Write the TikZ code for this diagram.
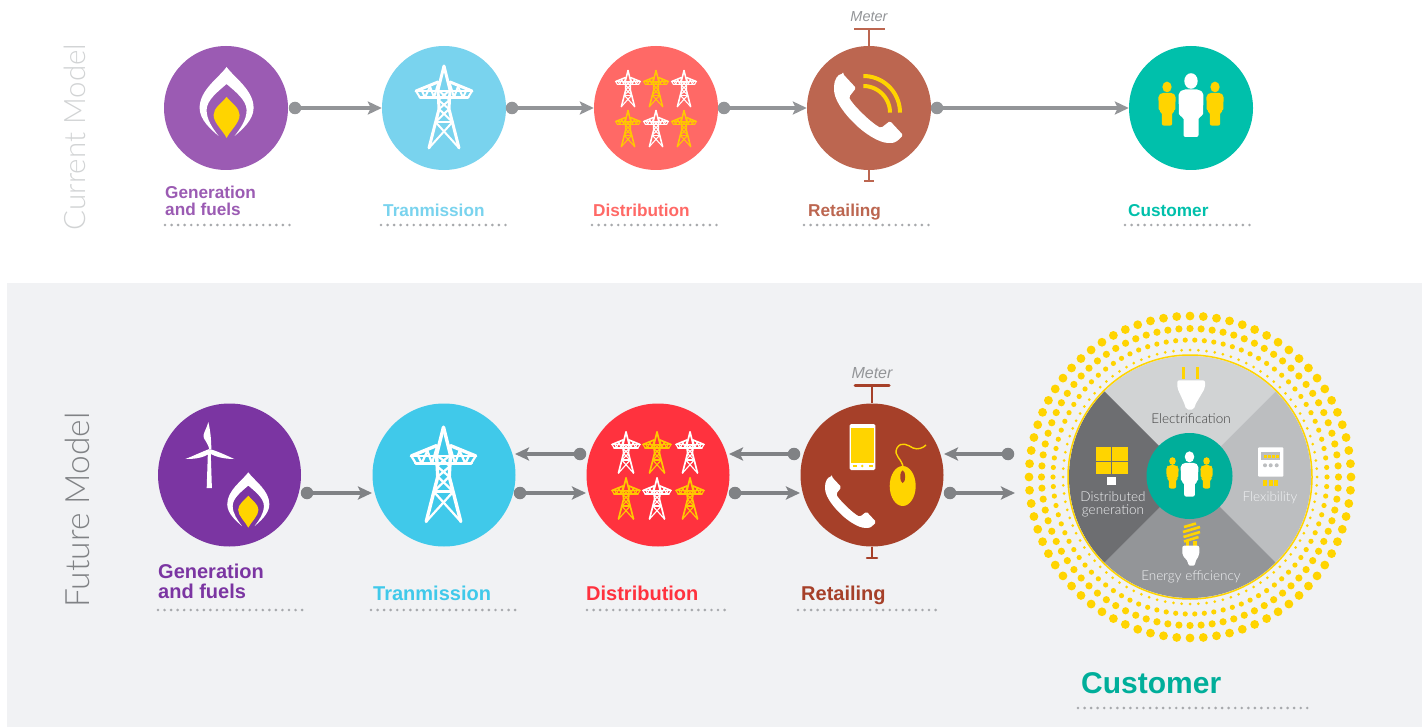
\documentclass[tikz,border=0pt]{standalone}
\usepackage{fontspec}
\setmainfont{Liberation Sans}
\newfontfamily\lightfont{Lato Light}
\usepackage[dvipsnames]{xcolor}
\usepackage{tikz}
\usetikzlibrary{arrows.meta}

\definecolor{panelgray}{HTML}{F1F2F4}
\definecolor{titlegray}{HTML}{D1D3D4}
\definecolor{flowgray}{HTML}{939598}
\definecolor{flowdark}{HTML}{808285}
\definecolor{dotgray}{HTML}{A7A9AC}
\definecolor{sunny}{HTML}{FFD400}
\definecolor{sunnydark}{HTML}{FFC800}
\definecolor{genold}{HTML}{9B5BB3}
\definecolor{transold}{HTML}{79D3EE}
\definecolor{distold}{HTML}{FF6966}
\definecolor{retold}{HTML}{BC6650}
\definecolor{custold}{HTML}{00C0AB}
\definecolor{gennew}{HTML}{7B35A2}
\definecolor{transnew}{HTML}{40C9EA}
\definecolor{distnew}{HTML}{FF323E}
\definecolor{retnew}{HTML}{A64029}
\definecolor{custnew}{HTML}{00AE9A}
\definecolor{sectop}{HTML}{D1D3D4}
\definecolor{secright}{HTML}{BCBEC0}
\definecolor{secbottom}{HTML}{939598}
\definecolor{secleft}{HTML}{6D6E71}

\tikzset{
  stage/.style={circle,inner sep=0pt,minimum size=#1},
  flow/.style={draw=#1,line width=4.5pt,-{Stealth[length=14pt,width=13pt,inset=3pt]}},
  knob/.style={circle,inner sep=0pt,minimum size=12.5pt,fill=#1},
  dotline/.style={draw=dotgray,line width=2.9pt,line cap=round,dash pattern=on 0pt off 6.55pt},
  oldlabel/.style={font=\fontsize{17.2}{17}\selectfont\bfseries,inner sep=0pt,anchor=base west,align=left},
  newlabel/.style={font=\fontsize{20}{20}\selectfont\bfseries,inner sep=0pt,anchor=base west,align=left},
  title/.style={font=\lightfont\fontsize{#1}{#1}\selectfont,inner sep=0pt,rotate=90},
  ringtext/.style={font=\lightfont\fontsize{13.5}{13}\selectfont,inner sep=0pt,align=center},
}

\newcommand{\flame}[3]{
  \begin{scope}[shift={(#1,#2)},scale=#3]
    \fill[white] (0,-41) .. controls (-8,-30) and (-27,-18) .. (-27,0) .. controls (-27,12) and (-15,22) .. (-8,28) .. controls (-14,20) and (-20,12) .. (-20,2) .. controls (-20,-8) and (-8,-17) .. (0,-24) .. controls (8,-17) and (20,-8) .. (20,2) .. controls (20,12) and (14,20) .. (8,28) .. controls (15,22) and (27,12) .. (27,0) .. controls (27,-18) and (8,-30) .. (0,-41) -- cycle;
    \fill[sunny] (0,-11) .. controls (-5,-5) and (-13,0) .. (-13,7) .. controls (-13,15) and (-4,22) .. (0,30) .. controls (4,22) and (13,15) .. (13,7) .. controls (13,0) and (5,-5) .. (0,-11) -- cycle;
  \end{scope}
}

\newcommand{\pylon}[4]{
  \begin{scope}[shift={(#1,#2)},scale=#3,draw=#4,line width={(0.3+#3*1.7)*1pt},line join=round,line cap=round]
    \foreach \s in {-1,1} {
      \draw[line width={(0.4+#3*2.6)*1pt}] (0,-42) -- (\s*6,-18) -- (\s*5,1) -- (\s*15,40);
      \draw[line width={(0.4+#3*2.6)*1pt}] (\s*28,-17) -- (\s*6,-26);
      \draw (\s*28,-17) -- (\s*24,-10.5);
      \draw (\s*23,-19) -- (\s*19,-10.5) -- (\s*14,-21.5) -- (\s*10,-10.5) -- (\s*6,-24);
      \draw (\s*6,-18) -- (-\s*5.6,-8) -- (\s*5,1) -- (-\s*8.5,14) -- (\s*15,40);
    }
    \draw (-28,-17) -- (28,-17);
    \draw[line width={(0.4+#3*2.6)*1pt}] (-24,-10.5) -- (24,-10.5);
    \draw (-8.5,14) -- (8.5,14);
  \end{scope}
}

\newcommand{\handset}[3]{
  \begin{scope}[shift={(#1,#2)},scale=#3]
    \fill[white,rounded corners=1.5pt] (-26,-34) -- (-13,-20) -- (-20,-11) .. controls (-17,-4) and (2,15) .. (12,20) -- (21,13) -- (34,27) .. controls (30,32) and (26,35) .. (21,35) .. controls (10,35) and (-5,25) .. (-15,15) .. controls (-28,2) and (-35,-10) .. (-35,-20) .. controls (-35,-28) and (-31,-34) .. (-26,-34) -- cycle;
  \end{scope}
}

\newcommand{\person}[4]{
  \begin{scope}[shift={(#1,#2)},scale=#3]
    \fill[#4] (0,-27) ellipse [x radius=6.7,y radius=7.8];
    \fill[#4,rounded corners=2pt] (-8,-18.5) -- (8,-18.5) -- (12.5,-15) -- (12,8) -- (7.5,9) -- (7.5,29) -- (-7.5,29) -- (-7.5,9) -- (-12,8) -- (-12.5,-15) -- cycle;
  \end{scope}
}

\newcommand{\people}[3]{
  \begin{scope}[shift={(#1,#2)},scale=#3]
    \person{0}{0}{1}{white}
    \person{-24}{-2.4}{0.69}{sunny}
    \person{24}{-2.4}{0.69}{sunny}
  \end{scope}
}

\begin{document}
\begin{tikzpicture}[x=1pt,y=-1pt]
  \useasboundingbox (0,0) rectangle (1427,727);
  \fill[white] (0,0) rectangle (1427,727);
  \fill[panelgray] (7,283) rectangle (1422,727);

  \node[title=29.5,text=titlegray] (oldtitle) at (75,137) {Current Model};
  \node[title=33.5,text=flowdark] (newtitle) at (77,510) {Future Model};

  % current model
  \node[stage=124pt,fill=genold] (gen) at (226,108) {};
  \node[stage=124pt,fill=transold] (trans) at (444,108) {};
  \node[stage=124pt,fill=distold] (dist) at (656,108) {};
  \node[stage=124pt,fill=retold] (ret) at (869,108) {};
  \node[stage=124pt,fill=custold] (cust) at (1191,108) {};

  \node[knob=flowgray] (genout) at (295,108) {};
  \node[knob=flowgray] (transout) at (512,108) {};
  \node[knob=flowgray] (distout) at (724,108) {};
  \node[knob=flowgray] (retout) at (937,108) {};
  \draw[flow=flowgray] (genout.center) -- (trans.west);
  \draw[flow=flowgray] (transout.center) -- (dist.west);
  \draw[flow=flowgray] (distout.center) -- (ret.west);
  \draw[flow=flowgray] (retout.center) -- (cust.west);

  \flame{226.6}{108}{1}
  \pylon{444}{108}{1}{white}
  \foreach \x/\y/\c in {628/89/white,656/89/sunnydark,684/89/white,628/129/sunnydark,656/129/white,684/129/sunnydark} {
    \pylon{\x}{\y}{0.44}{\c}
  }
  \handset{869}{108}{1}
  \foreach \r in {36.7,26.7} {
    \draw[sunny,line width=4pt,shift={(863.3,112.7)},domain=-90:0,samples=30] plot (\x:\r);
  }
  \draw[retold,line width=2.5pt] (869,29) -- (ret.north);
  \draw[retold,line width=2.5pt] (854,29) -- (885,29);
  \draw[retold,line width=2.5pt] (ret.south) -- (869,181);
  \draw[retold,line width=2.5pt] (864,181) -- (874,181);
  \node[font=\itshape\fontsize{14.5}{14}\selectfont,text=flowgray,inner sep=0pt] (oldmeter) at (869,17) {Meter};
  \people{1191}{108}{1}

  \node[oldlabel,anchor=west,text=genold] (genlabel) at (165,200.5) {Generation\\and fuels};
  \node[oldlabel,text=transold] (translabel) at (383,217) {Tranmission};
  \node[oldlabel,text=distold] (distlabel) at (593,217) {Distribution};
  \node[oldlabel,text=retold] (retlabel) at (808,217) {Retailing};
  \node[oldlabel,text=custold] (custlabel) at (1128,217) {Customer};
  \foreach \a/\b in {165/290,381/506,592/717,804/929,1125/1250} {
    \draw[dotline] (\a,225) -- (\b,225);
  }

  % future model
  \node[stage=143pt,fill=gennew] (gennow) at (229.5,475) {};
  \node[stage=143pt,fill=transnew] (transnow) at (444,475) {};
  \node[stage=143pt,fill=distnew] (distnow) at (658,475) {};
  \node[stage=143pt,fill=retnew] (retnow) at (872,475) {};

  \node[knob=flowdark] (genfwd) at (307,493) {};
  \node[knob=flowdark] (transfwd) at (520,493) {};
  \node[knob=flowdark] (distfwd) at (735,493) {};
  \node[knob=flowdark] (retfwd) at (950,493) {};
  \node[knob=flowdark] (distback) at (580,454) {};
  \node[knob=flowdark] (retback) at (794,454) {};
  \node[knob=flowdark] (custback) at (1008,454) {};
  \coordinate (genfwdend) at (372,493);
  \coordinate (transfwdend) at (586,493);
  \coordinate (distfwdend) at (800,493);
  \coordinate (retfwdend) at (1015,493);
  \coordinate (distbackend) at (515,454);
  \coordinate (retbackend) at (729,454);
  \coordinate (custbackend) at (944,454);
  \foreach \a/\b in {genfwd/genfwdend,transfwd/transfwdend,distfwd/distfwdend,retfwd/retfwdend,distback/distbackend,retback/retbackend,custback/custbackend} {
    \draw[flow=flowdark] (\a.center) -- (\b);
  }

  \flame{248.3}{504.3}{0.78}
  \begin{scope}[shift={(209.3,450)}]
    \fill[white] (-1.4,2) -- (1.4,2) -- (2.6,38) -- (-2.6,38) -- cycle;
    \fill[white] (-1,-28) .. controls (-3,-20) and (-7,-16) .. (-5.5,-12) .. controls (-3,-8) and (-1,-5) .. (0,-1) -- (2,-1) .. controls (2,-10) and (1,-20) .. (-1,-28) -- cycle;
    \fill[white] (0,-1) .. controls (-8,2) and (-16,6) .. (-24,9) .. controls (-14,9) and (-6,8) .. (1,3) -- cycle;
    \fill[white] (0,-1) .. controls (8,1) and (16,5) .. (25,9) .. controls (15,9) and (6,7) .. (0,3) -- cycle;
  \end{scope}
  \pylon{443.5}{475.5}{1.15}{white}
  \foreach \x/\y/\c in {626/453/white,657/453/sunnydark,690/453/white,626/499/sunnydark,657/499/white,690/499/sunnydark} {
    \pylon{\x}{\y}{0.5}{\c}
  }
  \handset{851}{502}{0.74}
  \fill[white,rounded corners=1.5pt] (849.7,424) rectangle (875.3,470);
  \fill[sunny] (851,428.3) rectangle (873.7,462.7);
  \fill[sunny] (853,465) rectangle (857,467);
  \fill[sunny] (869,465) rectangle (873,467);
  \fill[sunny] (862.3,466) circle (1.4pt);
  \draw[sunny,line width=1.4pt] (903.3,468) .. controls (902,458) and (893,456) .. (897,448) .. controls (901,441) and (908,445) .. (913,448) .. controls (918,450) and (923,448) .. (926,445);
  \fill[sunny] (902.7,486) ellipse [x radius=13,y radius=20];
  \fill[retnew] (902.7,476.7) ellipse [x radius=2.4,y radius=6.3];
  \draw[retnew,line width=2.5pt] (872,385) -- (retnow.north);
  \draw[retnew,line width=3pt,line cap=round] (855,385) -- (889,385);
  \draw[retnew,line width=2.5pt] (retnow.south) -- (872,558);
  \draw[retnew,line width=2.5pt,line cap=round] (867,558) -- (877,558);
  \node[font=\itshape\fontsize{16}{16}\selectfont,text=flowgray,inner sep=0pt] (newmeter) at (872,373.5) {Meter};

  \node[newlabel,anchor=west,text=gennew] (gennowlabel) at (158,581) {Generation\\and fuels};
  \node[newlabel,text=transnew] (transnowlabel) at (373,600.5) {Tranmission};
  \node[newlabel,text=distnew] (distnowlabel) at (586,600.5) {Distribution};
  \node[newlabel,text=retnew] (retnowlabel) at (801,600.5) {Retailing};
  \foreach \a/\b in {158/303,371/516,587/729,798/942} {
    \draw[dotline] (\a,610) -- (\b,610);
  }

  % customer ring
  \coordinate (hub) at (1190,477);
  \foreach \r/\n/\s in {161/76/4.4,148.5/84/3.6,137/90/2.6,127/96/1.5} {
    \foreach \k in {1,...,\n} {
      \fill[sunny] ([shift={(hub)}]{360/\n*\k}:\r) circle (\s pt);
    }
  }
  \begin{scope}
    \clip (hub) circle (121pt);
    \fill[sectop] (hub) -- ++(-200,-200) -- ++(400,0) -- cycle;
    \fill[secright] (hub) -- ++(200,-200) -- ++(0,400) -- cycle;
    \fill[secbottom] (hub) -- ++(200,200) -- ++(-400,0) -- cycle;
    \fill[secleft] (hub) -- ++(-200,200) -- ++(0,-400) -- cycle;
  \end{scope}
  \draw[sunny,line width=1.5pt] (hub) circle (122pt);
  \node[stage=86pt,fill=custnew] (custnow) at (1189.5,476) {};
  \people{1189.5}{476}{0.71}

  \fill[sunny] (1182,367) rectangle (1185.4,379);
  \fill[sunny] (1196,367) rectangle (1199.4,379);
  \fill[white,rounded corners=2pt] (1177.3,380.3) -- (1205,380.3) -- (1205,388) -- (1195,405) -- (1194,409.5) -- (1186,409.5) -- (1185,405) -- (1177.3,388) -- cycle;
  \node[ringtext,text=black!75] (electric) at (1191,419) {Electrification};

  \fill[sunny] (1095.7,447.3) rectangle (1110.7,461);
  \fill[sunny] (1112.3,447.3) rectangle (1127.7,461);
  \fill[sunny] (1095.7,462.3) rectangle (1110.7,474.3);
  \fill[sunny] (1112.3,462.3) rectangle (1127.7,474.3);
  \fill[white] (1106.7,477.3) rectangle (1116,485.3);
  \node[ringtext,text=panelgray] (distgen) at (1113,504) {Distributed\\generation};

  \fill[white,rounded corners=1pt] (1258,447.3) rectangle (1283.3,476.7);
  \fill[secright] (1261.3,452.3) rectangle (1280,460);
  \foreach \x in {1264,1268,1272,1276} {
    \fill[sunny] (\x,454.7) rectangle (\x+3,458.3);
  }
  \foreach \x in {1265,1270.7,1276.7} {
    \fill[secright] (\x,465.3) circle (2pt);
  }
  \foreach \x in {1263,1269.3,1274.3} {
    \fill[sunny] (\x,479.7) rectangle (\x+4,486);
  }
  \node[ringtext,text=panelgray] (flex) at (1270,497.7) {Flexibility};

  \foreach \a/\b/\c/\d in {1184/527/1196/523.5,1183/532/1200/527,1183.5/537/1200/532,1184/541.5/1198.5/537} {
    \draw[sunny,line width=2.6pt] (\a,\b) -- (\c,\d);
  }
  \fill[sunny] (1186,541) rectangle (1189,546);
  \fill[sunny] (1193,541) rectangle (1196.5,546);
  \fill[white,rounded corners=2pt] (1182.3,545.7) -- (1199.3,545.7) -- (1199.3,555) -- (1195,562) -- (1195,565.7) -- (1188.3,565.7) -- (1188.3,562) -- (1182.3,555) -- cycle;
  \node[ringtext,text=panelgray] (efficiency) at (1191,576.7) {Energy efficiency};

  \node[font=\fontsize{30}{30}\selectfont\bfseries,text=custnew,inner sep=0pt,anchor=west] (custnowlabel) at (1081,683) {Customer};
  \draw[dotline] (1078,708) -- (1309,708);
\end{tikzpicture}
\end{document}
